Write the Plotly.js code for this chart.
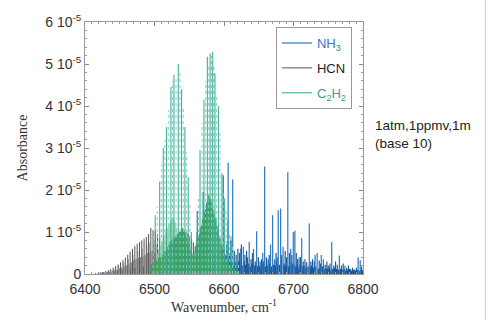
<!DOCTYPE html>
<html><head><meta charset="utf-8">
<script src="https://cdn.plot.ly/plotly-3.0.1.min.js"></script>
<style>html,body{margin:0;padding:0;background:#fff}#chart{width:488px;height:320px}</style>
</head><body><div id="chart"></div>
<script>
// Absorbance values are in units of 1e-5 (tick labels "n 10^-5")
const yTickVals = [0,1,2,3,4,5,6];
const yTickText = ["0","1 10<sup>-5</sup>","2 10<sup>-5</sup>","3 10<sup>-5</sup>","4 10<sup>-5</sup>","5 10<sup>-5</sup>","6 10<sup>-5</sup>"];
const xTickVals = [6400,6500,6600,6700,6800];

// NH3 strong lines
const nh3StrongPos = [6561.5,6570,6599,6606,6612.5,6624,6627.8,6636.3,6642.5,6647,6655.7,6658.5,6667,6670,6678,6681.5,6685,6691.8,6696,6699.7,6702,6708,6711.8,6722.7,6731,6734,6740,6743,6755,6766,6774,6793,6796];
const nh3StrongAbs = [1.5,1.95,2.35,2.65,2.25,0.6,0.65,0.77,0.6,1.02,0.5,2.56,0.7,1.4,1.52,1.56,0.65,2.42,0.6,1.0,1.03,0.4,0.85,1.2,0.45,0.5,0.45,0.35,0.76,0.44,0.2,0.4,0.33];
// NH3 weak forest
const nh3WeakPos = [6425,6432,6440,6447,6453,6460,6466,6472,6478,6484,6490,6496,6503,6509,6514,6520,6526,6532,6538,6544,6550,6556,6562,6568,6574,6580,6586,6592,6596,
 6600,6602.5,6604,6608,6610,6615,6617.5,6620,6622.5,6625,6630,6632.5,6634,6639,6641,6645,6649.5,6652,6654,6657,6661,6663.5,6665,6673,6675,6676.5,6683,6688,6690,6694,6697.5,6704,6706,6710,6714,6716.5,6719,6725,6727.5,6730,6737,6739,6745.5,6748,6750,6752.5,6758,6760.5,6763,6769,6771.5,6776.5,6779,6782,6785,6788,6790.5,6798,6800];
const nh3WeakAbs = [0.04,0.05,0.06,0.08,0.1,0.1,0.12,0.14,0.15,0.18,0.2,0.22,0.25,0.3,0.28,0.35,0.3,0.38,0.35,0.4,0.3,0.35,0.4,0.35,0.4,0.35,0.45,0.5,0.55,
 0.6,0.45,0.7,0.5,0.8,0.55,0.45,0.6,0.5,0.7,0.45,0.55,0.4,0.35,0.5,0.3,0.4,0.3,0.35,0.3,0.4,0.35,0.45,0.35,0.5,0.4,0.45,0.55,0.4,0.5,0.45,0.5,0.35,0.4,0.3,0.35,0.28,0.3,0.35,0.3,0.32,0.25,0.22,0.3,0.2,0.25,0.2,0.3,0.22,0.2,0.25,0.15,0.2,0.12,0.15,0.1,0.15,0.18,0.1];
// NH3 dense baseline lines
const nh3BasePos = [6598,6601.5,6603,6606.8,6609,6611.5,6614,6616,6619,6621,6623.5,6626,6628.8,6631,6635,6637.5,6640,6643.5,6646,6648,6650.5,6653,6656,6659.5,6662,6666,6668.5,6671.5,6674,6677,6680,6682.5,6686,6687,6689,6692.5,6695,6698.5,6701,6703,6705,6707,6709,6712.5,6715,6718,6721,6724,6726,6729,6732,6735.5,6738,6741.5,6744,6747,6749,6751.5,6754,6756.5,6759,6762,6765,6767.5,6770,6773,6775,6778,6780.5,6783.5,6786.5,6789,6792,6794.5,6797,6799];
const nh3BaseAbs = [0.25,0.3,0.2,0.35,0.25,0.3,0.2,0.28,0.22,0.3,0.25,0.2,0.3,0.22,0.25,0.18,0.25,0.2,0.22,0.18,0.2,0.15,0.22,0.18,0.2,0.25,0.18,0.22,0.2,0.25,0.22,0.18,0.25,0.2,0.22,0.18,0.2,0.25,0.22,0.18,0.2,0.15,0.22,0.18,0.2,0.15,0.18,0.15,0.2,0.15,0.18,0.12,0.15,0.18,0.12,0.15,0.12,0.15,0.1,0.12,0.15,0.12,0.1,0.12,0.1,0.12,0.08,0.1,0.12,0.08,0.1,0.08,0.1,0.08,0.1,0.08];

// HCN P and R branch lines
const hcnMainPos = [6415.2,6418.9,6422.5,6426.2,6429.8,6433.4,6437.0,6440.5,6444.1,6447.6,6451.1,6454.6,6458.0,6461.5,6464.9,6468.3,6471.7,6475.0,6478.4,6481.7,6485.0,6488.2,6491.5,6494.7,6497.9,6501.1,6504.3,6507.4,6510.5,6513.6,6516.6,
 6522.6,6525.5,6528.4,6531.3,6534.2,6537.0,6539.8,6542.6,6545.3,6548.0,6550.7,6553.4,6556.0,6558.6,6561.2,6563.8,6566.3,6568.8,6571.3,6573.7,6576.1,6578.5,6580.9,6583.2,6585.5];
const hcnMainAbs = [0.02,0.03,0.04,0.05,0.07,0.09,0.12,0.15,0.19,0.23,0.28,0.33,0.39,0.46,0.53,0.6,0.66,0.72,0.76,0.8,0.84,0.88,0.95,1.1,1.05,1.02,0.95,0.85,0.7,0.5,0.25,
 0.15,0.4,0.6,0.75,0.87,0.95,1.0,1.02,1.0,0.97,0.9,0.83,0.75,0.66,0.57,0.48,0.4,0.33,0.27,0.21,0.16,0.12,0.09,0.07,0.05];
const hcnWeakPos = [6424.4,6428,6431.6,6435.2,6438.8,6442.3,6445.8,6449.4,6452.8,6456.3,6459.8,6463.2,6466.6,6470,6473.3,6476.7,6480,6483.3,6486.5,6490,6493,6496.5,6500];
const hcnWeakAbs = [0.02,0.03,0.04,0.05,0.06,0.08,0.1,0.13,0.15,0.18,0.21,0.25,0.28,0.32,0.35,0.38,0.4,0.42,0.45,0.5,0.5,0.55,0.5];
const hcnHotPos = [6420.7,6427.9,6434.7,6441.5,6448.4,6455.5,6462.4,6469.1,6476,6482.5,6488.9,6492.8,6499.2,6503,6506,6509];
const hcnHotAbs = [0.03,0.05,0.08,0.13,0.2,0.28,0.36,0.45,0.55,0.6,0.7,0.75,0.8,0.7,0.6,0.5];

// C2H2 strong lines (two interleaved sets)
const c2h2APos = [6501,6507.5,6512.6,6517.4,6523.6,6528,6534.2,6539,6543.8,6548.5,6553,6561,6565.5,6571.2,6576,6580,6583.8,6587,6591.9,6597,6601,6605.5,6610,6614.5,6619];
const c2h2AAbs = [1.4,2.2,3.0,3.5,4.45,4.75,5.0,4.4,3.5,2.3,1.0,1.0,2.95,4.15,5.17,5.25,5.29,4.78,4.0,2.4,1.8,1.3,0.9,0.55,0.35];
const c2h2BPos = [6498,6504,6510,6515,6520.5,6525.8,6531,6536.6,6541.4,6546.2,6551,6555,6558.5,6563.2,6568.4,6573.6,6578,6582,6585.4,6589.5,6594.2,6598.8,6603.2,6607.8,6612.2,6616.8,6621];
const c2h2BAbs = [0.9,1.6,2.6,3.2,3.9,4.6,4.7,4.8,4.0,2.9,1.7,0.5,0.5,1.8,3.6,4.6,5.0,5.2,5.0,4.3,3.4,2.0,1.5,1.0,0.7,0.4,0.25];
// C2H2 weak (hot band) lines
const c2h2WeakPos = [6494,6495.5,6497,6498.5,6500,6501.5,6503,6504.5,6506,6507.5,6509,6510.5,6512,6513.5,6515,6516.5,6518,6519.5,6521,6522.5,6524,6525.5,6527,6528.5,6530,6531.5,6533,6534.5,6536,6537.5,6539,6540.5,6542,6543.5,6545,6546.5,6548,6549.5,6551,6552.5,6554,6555.5,6557,6558.5,6560,6561.5,6563,6564.5,6566,6567.5,6569,6570.5,6572,6573.5,6575,6576.5,6578,6579.5,6581,6582.5,6584,6585.5,6587,6588.5,6590,6591.5,6593,6594.5,6596,6597.5,6599,6600.5,6602,6603.5,6605,6606.5,6608,6609.5,6611,6612.5,6614,6615.5,6617,6618.5,6620];
const c2h2WeakAbs = [0.12,0.18,0.15,0.25,0.22,0.3,0.35,0.3,0.4,0.35,0.4,0.38,0.45,0.5,0.55,0.55,0.6,0.65,0.7,0.75,0.8,0.78,0.85,0.82,0.9,0.88,0.95,0.92,1.0,1.02,1.08,1.1,1.05,1.0,0.9,0.85,0.75,0.7,0.6,0.55,0.5,0.45,0.5,0.55,0.7,0.75,0.9,0.95,1.1,1.15,1.3,1.35,1.5,1.55,1.7,1.75,1.88,1.8,1.78,1.7,1.55,1.5,1.35,1.3,1.15,1.05,0.9,0.85,0.7,0.65,0.5,0.48,0.4,0.35,0.3,0.28,0.22,0.2,0.15,0.14,0.12,0.1,0.08,0.07,0.05];
const c2h2MintPos = [6505,6506.5,6508,6509.5,6511,6512.5,6514,6515.5,6517,6518.5,6520,6521.5,6523,6524.5,6526,6527.5,6529,6530.5,6532,6533.5,6535,6536.5,6538];
const c2h2MintAbs = [0.45,0.55,0.6,0.7,0.75,0.85,0.9,1.0,1.05,1.1,1.15,1.2,1.25,1.3,1.35,1.3,1.25,1.2,1.1,1.0,0.9,0.8,0.7];

function sticks(pos, h){
  const x=[], y=[];
  pos.forEach((p,i)=>{ x.push(p,p,null); y.push(0,h[i],null); });
  return {x, y};
}
function trace(pos, h, color, width, opts){
  const s = sticks(pos,h);
  return Object.assign({type:'scatter', mode:'lines', x:s.x, y:s.y, line:{color:color, width:width}, hoverinfo:'skip', showlegend:false}, opts||{});
}

const data = [
  trace(nh3BasePos, nh3BaseAbs, '#1a4f8c', 1.4, {legendgroup:'nh3'}),
  trace(nh3WeakPos, nh3WeakAbs, '#1d5b9e', 1.2, {legendgroup:'nh3'}),
  trace(nh3StrongPos, nh3StrongAbs, '#2a78c2', 1.2, {name:"<span style='color:#2a7bc8'>NH<sub>3</sub></span>", showlegend:true, legendgroup:'nh3', legendrank:1}),
  trace(hcnHotPos, hcnHotAbs, '#b8b8b8', 1.4, {legendgroup:'hcn'}),
  trace(hcnWeakPos, hcnWeakAbs, '#8c8c8c', 1.3, {legendgroup:'hcn'}),
  trace(hcnMainPos, hcnMainAbs, '#555555', 1, {name:'HCN', showlegend:true, legendgroup:'hcn', legendrank:2}),
  trace(c2h2MintPos, c2h2MintAbs, '#9fd8b4', 1.3, {legendgroup:'c2h2'}),
  trace(c2h2WeakPos, c2h2WeakAbs, '#3e9f5a', 1.3, {legendgroup:'c2h2'}),
  trace(c2h2BPos, c2h2BAbs, '#7fcfc4', 1, {legendgroup:'c2h2', line:{color:'#7fcfc4', width:1, dash:'dot'}}),
  trace(c2h2APos, c2h2AAbs, '#31a88c', 1, {name:"<span style='color:#2fa88a'>C<sub>2</sub>H<sub>2</sub></span>", showlegend:true, legendgroup:'c2h2', legendrank:3})
];

const tickFont = {family:'Liberation Sans, Arial, sans-serif', size:14, color:'#333'};
const layout = {
  width:488, height:320,
  margin:{l:85, r:125, t:22, b:46},
  paper_bgcolor:'#fff', plot_bgcolor:'#fff',
  showlegend:true,
  legend:{x:0.687, y:0.98, xanchor:'left', yanchor:'top', bordercolor:'#999', borderwidth:1, bgcolor:'#fff',
    font:{family:'Liberation Sans, Arial, sans-serif', size:13, color:'#222'}, traceorder:'grouped', tracegroupgap:5, itemwidth:30},
  xaxis:{range:[6400,6800], tickvals:xTickVals, ticks:'inside', ticklen:4, tickcolor:'#888', showline:true, linecolor:'#999', linewidth:1, mirror:'ticks',
    showgrid:false, zeroline:false, tickfont:tickFont, ticklabelstandoff:2,
    minor:{tick0:6400, dtick:10, ticks:'inside', ticklen:2, tickcolor:'#999'},
    title:{text:'Wavenumber, cm<sup>-1</sup>', font:{family:'Liberation Serif, Times New Roman, serif', size:14, color:'#333'}, standoff:3}},
  yaxis:{range:[0,6], tickvals:yTickVals, ticktext:yTickText, ticks:'inside', ticklen:4, tickcolor:'#888', showline:true, linecolor:'#999', linewidth:1, mirror:'ticks',
    showgrid:false, zeroline:false, tickfont:tickFont,
    minor:{tick0:0, dtick:0.2, ticks:'inside', ticklen:2, tickcolor:'#999'},
    title:{text:'Absorbance', font:{family:'Liberation Serif, Times New Roman, serif', size:14, color:'#333'}, standoff:14}},
  annotations:[{xref:'paper', yref:'paper', x:1.035, y:0.555, xanchor:'left', yanchor:'middle', align:'left', showarrow:false,
    text:'1atm,1ppmv,1m<br>(base 10)', font:{family:'Liberation Sans, Arial, sans-serif', size:13.5, color:'#222'}}],
  shapes:[{type:'line', xref:'paper', yref:'paper', x0:1.44, x1:1.44, y0:-0.18, y1:1.09, line:{color:'#cccccc', width:1}}]
};
Plotly.newPlot('chart', data, layout, {displayModeBar:false, staticPlot:true});
</script></body></html>
